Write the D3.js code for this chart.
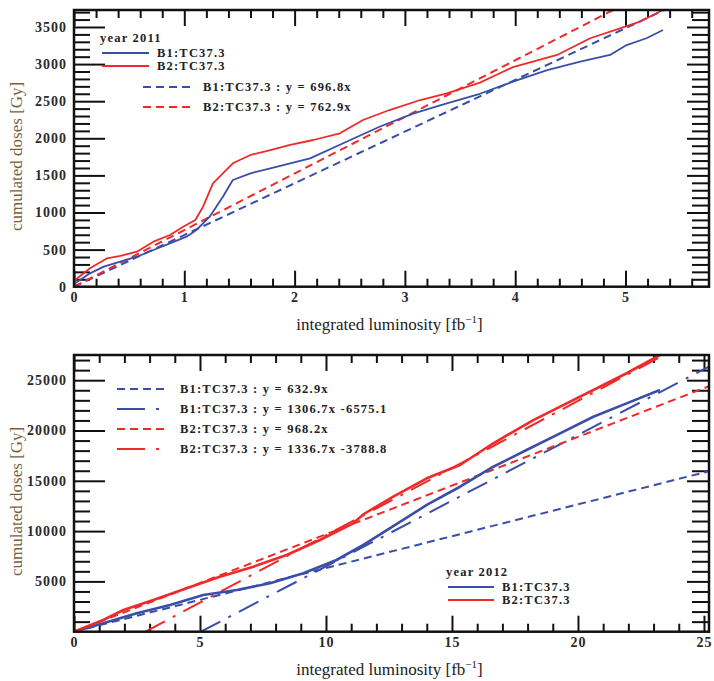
<!DOCTYPE html>
<html>
<head>
<meta charset="utf-8">
<script src="https://cdn.jsdelivr.net/npm/d3@7"></script>
<style>
  body { margin: 0; background: #fff; }
  svg { display: block; }
</style>
</head>
<body>
<div id="chart"></div>
<script>
// ---- data ----
// 2011: integrated luminosity [fb^-1] vs cumulated dose [Gy]
const b1_2011 = [[0,0],[0.01,46],[0.145,180],[0.27,270],[0.42,337],[0.57,404],[0.72,495],[0.87,585],[1.02,674],[1.11,764],[1.23,943],[1.35,1213],[1.44,1438],[1.60,1528],[1.78,1596],[1.96,1663],[2.14,1730],[2.47,1954],[2.77,2156],[3.08,2337],[3.38,2471],[3.68,2600],[3.98,2763],[4.29,2920],[4.59,3032],[4.86,3123],[5.01,3257],[5.19,3348],[5.34,3460]];
const b2_2011 = [[0,0],[0.01,90],[0.145,248],[0.30,383],[0.42,414],[0.57,472],[0.72,607],[0.87,697],[0.99,809],[1.10,899],[1.17,1078],[1.26,1393],[1.35,1528],[1.44,1663],[1.60,1775],[1.78,1842],[1.96,1910],[2.17,1977],[2.41,2067],[2.62,2247],[2.86,2381],[3.14,2516],[3.38,2606],[3.68,2750],[3.86,2876],[3.98,2960],[4.38,3123],[4.68,3348],[4.95,3482],[5.13,3571],[5.34,3729]];
// 2012
const b1_2012 = [[0,0],[1.16,835],[2.49,1829],[3.81,2654],[5.13,3648],[6.46,4145],[7.78,4811],[9.10,5805],[10.42,7127],[11.5,8650],[12.67,10500],[14.0,12600],[15.32,14410],[16.64,16400],[17.96,18060],[19.29,19720],[20.61,21370],[21.93,22700],[23.25,24030]];
const b2_2012 = [[0,0],[1.16,1163],[1.96,2157],[3.15,3151],[4.47,4314],[5.79,5467],[7.12,6461],[8.44,7624],[9.76,9115],[11.08,10775],[11.5,11700],[12.67,13420],[14.0,15250],[15.32,16570],[16.64,18730],[18.23,21040],[19.55,22700],[20.87,24350],[21.93,25690],[23.25,27500]];

// linear fits y = a*x + b
const fitSlopes2011 = [696.8, 762.9];
const fitIntercepts2011 = [0, 0];
const fitLabels2011 = ["B1:TC37.3 : y = 696.8x", "B2:TC37.3 : y = 762.9x"];

const fitSlopes2012 = [632.9, 1306.7, 968.2, 1336.7];
const fitIntercepts2012 = [0, -6575.1, 0, -3788.8];
const fitLabels2012 = ["B1:TC37.3 : y = 632.9x", "B1:TC37.3 : y = 1306.7x -6575.1", "B2:TC37.3 : y = 968.2x", "B2:TC37.3 : y = 1336.7x -3788.8"];

const seriesLabels = ["B1:TC37.3", "B2:TC37.3"];
const xTicks2011 = [0, 1, 2, 3, 4, 5];
const yTicks2011 = [0, 500, 1000, 1500, 2000, 2500, 3000, 3500];
const xTicks2012 = [0, 5, 10, 15, 20, 25];
const yTicks2012 = [5000, 10000, 15000, 20000, 25000];

// ---- styling ----
const BLUE = "#3a4ea8", RED = "#ef2a2a";
const DASH = "8,5", DASHDOT = "22,9,3,9";
const SERIF = '"Liberation Serif", "DejaVu Serif", serif';

const svg = d3.select("#chart").append("svg")
    .attr("width", 714)
    .attr("height", 681);

const range = (a, b, s) => d3.range(a, b + s / 2, s).map(v => +v.toFixed(4)).filter(v => v <= b);

const drawPanel = (p) => {
    const x = d3.scaleLinear().domain(p.xDomain).range([p.left, p.right]);
    const y = d3.scaleLinear().domain(p.yDomain).range([p.bottom, p.top]);
    const g = svg.append("g");

    g.append("clipPath").attr("id", p.id)
        .append("rect")
        .attr("x", p.left).attr("y", p.top)
        .attr("width", p.right - p.left).attr("height", p.bottom - p.top);

    const xMinor = range(p.xDomain[0], p.xDomain[1], p.xMinorStep).filter(v => !p.xTicks.includes(v));
    const yMajorAll = range(0, p.yDomain[1], p.yMinorStep * 5).filter(v => v > 0);
    const yMinor = range(p.yDomain[0], p.yDomain[1], p.yMinorStep).filter(v => !yMajorAll.includes(v) && v > 0);

    const styleAxis = sel => {
        sel.select(".domain").remove();
        sel.selectAll("line").attr("stroke", "#111").attr("stroke-width", 2);
        sel.selectAll("text")
            .attr("fill", "#2a2a2a")
            .style("font-family", SERIF)
            .style("font-size", "14px")
            .style("letter-spacing", "1px")
            .style("font-weight", "bold");
    };

    // bottom
    g.append("g").attr("transform", `translate(0,${p.bottom})`)
        .call(d3.axisBottom(x).tickValues(xMinor).tickSize(-8).tickFormat(""))
        .call(styleAxis);
    g.append("g").attr("transform", `translate(0,${p.bottom})`)
        .call(d3.axisBottom(x).tickValues(p.xTicks).tickSize(-16).tickPadding(5).tickFormat(d3.format("d")))
        .call(styleAxis);
    // top
    g.append("g").attr("transform", `translate(0,${p.top})`)
        .call(d3.axisTop(x).tickValues(xMinor).tickSize(-8).tickFormat(""))
        .call(styleAxis);
    g.append("g").attr("transform", `translate(0,${p.top})`)
        .call(d3.axisTop(x).tickValues(p.xTicks).tickSize(-16).tickFormat(""))
        .call(styleAxis);
    // left
    g.append("g").attr("transform", `translate(${p.left},0)`)
        .call(d3.axisLeft(y).tickValues(yMinor).tickSize(-16).tickFormat(""))
        .call(styleAxis);
    g.append("g").attr("transform", `translate(${p.left},0)`)
        .call(d3.axisLeft(y).tickValues(yMajorAll).tickSize(-31).tickFormat(""))
        .call(styleAxis);
    g.append("g").attr("transform", `translate(${p.left},0)`)
        .call(d3.axisLeft(y).tickValues(p.yTicks).tickSize(0).tickPadding(7).tickFormat(d3.format("d")))
        .call(styleAxis);
    // right
    g.append("g").attr("transform", `translate(${p.right},0)`)
        .call(d3.axisRight(y).tickValues(yMinor).tickSize(-17).tickFormat(""))
        .call(styleAxis);
    g.append("g").attr("transform", `translate(${p.right},0)`)
        .call(d3.axisRight(y).tickValues(yMajorAll).tickSize(-22).tickFormat(""))
        .call(styleAxis);

    // fits
    const plot = g.append("g").attr("clip-path", `url(#${p.id})`);
    const line = d3.line().x(d => x(d[0])).y(d => y(d[1]));
    p.fitSlopes.forEach((a, i) => {
        const b = p.fitIntercepts[i];
        const x0 = Math.max(p.xDomain[0], -b / a);
        const x1 = p.xDomain[1];
        plot.append("path")
            .attr("d", line([[x0, a * x0 + b], [x1, a * x1 + b]]))
            .attr("fill", "none")
            .attr("stroke", p.fitColors[i])
            .attr("stroke-width", 2)
            .attr("stroke-dasharray", p.fitDash[i]);
    });

    // data
    p.series.forEach((s, i) => {
        plot.append("path")
            .attr("d", line(s))
            .attr("fill", "none")
            .attr("stroke", p.seriesColors[i])
            .attr("stroke-width", p.dataWidth)
            .attr("stroke-linejoin", "round");
    });

    // frame
    g.append("rect")
        .attr("x", p.left).attr("y", p.top)
        .attr("width", p.right - p.left).attr("height", p.bottom - p.top)
        .attr("fill", "none").attr("stroke", "#111").attr("stroke-width", 2.5);

    // axis titles
    const xt = g.append("text")
        .attr("x", (p.left + p.right) / 2 - 2)
        .attr("y", p.bottom + 43)
        .attr("text-anchor", "middle")
        .attr("fill", "#222")
        .style("font-family", SERIF)
        .style("font-size", "17px");
    xt.append("tspan").text("integrated luminosity [fb");
    xt.append("tspan").attr("dy", -7).style("font-size", "11px").text("−1");
    xt.append("tspan").attr("dy", 7).text("]");

    g.append("text")
        .attr("transform", `translate(22,${(p.top + p.bottom) / 2 + 8}) rotate(-90)`)
        .attr("text-anchor", "middle")
        .attr("fill", "#7a6038")
        .style("font-family", SERIF)
        .style("font-size", "17px")
        .text("cumulated doses [Gy]");

    // legends
    const legendText = (sel, tx, ty, t) => sel.append("text")
        .attr("x", tx).attr("y", ty).attr("dy", "0.35em")
        .attr("fill", "#222")
        .style("font-family", SERIF)
        .style("font-size", "12.5px").style("font-weight", "bold")
        .style("letter-spacing", "1.2px")
        .text(t);
    const legendLine = (sel, x1, x2, ly, color, dash) => sel.append("line")
        .attr("x1", x1).attr("x2", x2).attr("y1", ly).attr("y2", ly)
        .attr("stroke", color).attr("stroke-width", 2)
        .attr("stroke-dasharray", dash);

    const L = p.dataLegend;
    legendText(g, L.x - 2, L.y, L.title);
    seriesLabels.forEach((t, i) => {
        legendLine(g, L.x, L.x + L.len, L.y + 15 + i * 13, p.seriesColors[i], null);
        legendText(g, L.x + L.len + 8, L.y + 15 + i * 13, t);
    });

    const F = p.fitLegend;
    p.fitLabels.forEach((t, i) => {
        legendLine(g, F.x, F.x + F.len, F.y + i * F.step, p.fitColors[i], p.fitLegendDash[i]);
        legendText(g, F.tx, F.y + i * F.step, t);
    });
};

drawPanel({
    id: "clip2011",
    left: 74, right: 709, top: 10, bottom: 286.7,
    xDomain: [0, 5.757], yDomain: [0, 3729],
    xTicks: xTicks2011, yTicks: yTicks2011,
    xMinorStep: 0.2, yMinorStep: 100,
    series: [b1_2011, b2_2011], seriesColors: [BLUE, RED], dataWidth: 1.8,
    fitSlopes: fitSlopes2011, fitIntercepts: fitIntercepts2011, fitLabels: fitLabels2011,
    fitColors: [BLUE, RED], fitDash: [DASH, DASH], fitLegendDash: [DASH, DASH],
    dataLegend: { title: "year 2011", x: 102, y: 38, len: 47 },
    fitLegend: { x: 143, len: 48, tx: 203, y: 87, step: 20 }
});

drawPanel({
    id: "clip2012",
    left: 74, right: 709, top: 355, bottom: 631.7,
    xDomain: [0, 25.2], yDomain: [0, 27505],
    xTicks: xTicks2012, yTicks: yTicks2012,
    xMinorStep: 1, yMinorStep: 1000,
    series: [b1_2012, b2_2012], seriesColors: [BLUE, RED], dataWidth: 2.6,
    fitSlopes: fitSlopes2012, fitIntercepts: fitIntercepts2012, fitLabels: fitLabels2012,
    fitColors: [BLUE, BLUE, RED, RED], fitDash: [DASH, DASHDOT, DASH, DASHDOT],
    fitLegendDash: [DASH, "28,11,3,40", DASH, "28,11,3,40"],
    dataLegend: { title: "year 2012", x: 448, y: 572, len: 46 },
    fitLegend: { x: 117, len: 48, tx: 180, y: 389, step: 20 }
});
</script>
</body>
</html>
